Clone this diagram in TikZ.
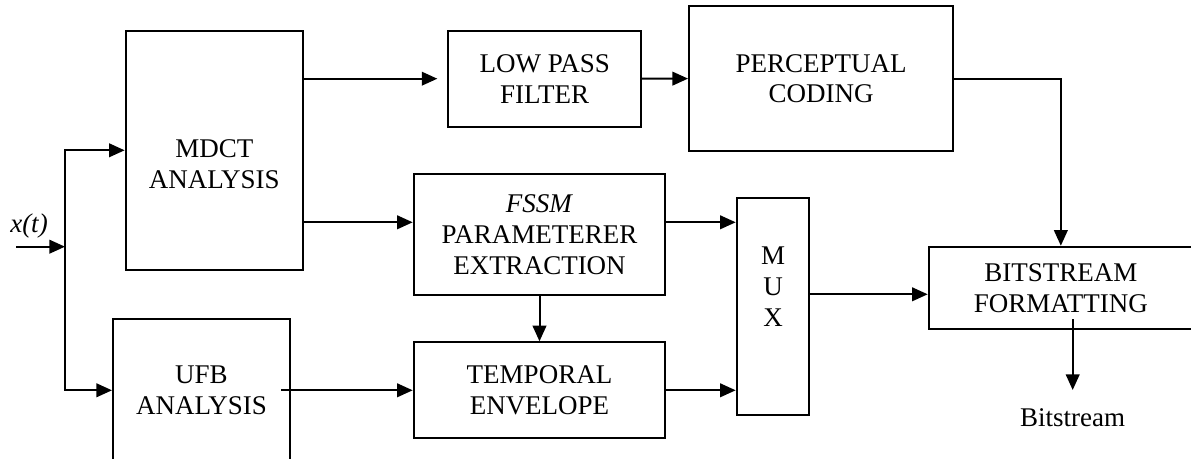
\documentclass[tikz,border=0pt]{standalone}
\usepackage{fontspec}
\setmainfont{Liberation Serif}
\usetikzlibrary{arrows.meta, positioning}
\tikzset{
  BLK/.style args={#1/#2}{
    rectangle, draw=black, line width=1pt,
    minimum width=#1, minimum height=#2,
    inner sep=0pt, align=center,
    font=\fontsize{13.5}{15.4}\selectfont
  },
  TXT/.style={
    inner sep=0pt,
    font=\fontsize{13.5}{15.4}\selectfont
  },
  ARR/.style={
    -{Triangle[length=7.8pt,width=6.8pt]},
    line width=1pt
  },
}

\begin{document}
\begin{tikzpicture}[x=0.5pt,y=0.5pt]

\useasboundingbox (0,0) rectangle (1191,-459);
\clip (0,0) rectangle (1191,-459);

%================ ANALYSIS =================
\node[BLK=88.65pt/119.65pt] (mdct) at (214.3,-150.3)
{\rule{0pt}{7.8pt}\\MDCT\\ANALYSIS};
\node[BLK=88.5pt/71.3pt] (ufb) at (201.5,-390.3) {UFB\\ANALYSIS};

%================ MIDDLE =================
\node[BLK=96.35pt/48pt]   (lpf)  at (544.7,-78.7)  {LOW PASS\\FILTER};
\node[BLK=125.8pt/60.35pt] (fssm) at (539.5,-234.7)
{\textit{FSSM}\\PARAMETERER\\EXTRACTION};
\node[BLK=125.8pt/48pt]   (te)   at (539.5,-390.3) {TEMPORAL\\ENVELOPE};

%================ RIGHT =================
\node[BLK=132.15pt/72.1pt]  (pc)  at (821.2,-78.6) {PERCEPTUAL\\CODING};
\node[BLK=36.3pt/108.35pt]  (mux) at (773,-306.7)  {M\\U\\X\\[4.6pt]\mbox{}};
\node[BLK=132.15pt/41.15pt] (bf)  at (1060.85,-287.9) {BITSTREAM\\FORMATTING};

%================ ROUTING POINTS =================
\coordinate (in)    at (16,-246.7);
\coordinate (split) at (65,-246.7);
\coordinate (row2)  at (0,-222.3);
\coordinate (row3)  at (0,-294.3);
\coordinate (bsend) at (1072.7,-390);

\node[TXT] (xt) at (29,-226) {\textit{x(t)}};
\node[TXT,below=9pt of bsend] (bits) {Bitstream};

%================ INPUT =================
\draw[ARR] (in) -- (split);
\draw[ARR] (split) |- (mdct.west);
\draw[ARR] (split) |- (ufb.west);

%================ PATHS =================
\draw[ARR,shorten >=5pt] (mdct.east |- lpf.west) -- (lpf.west);
\draw[ARR] (mdct.east |- row2) -- (fssm.west |- row2);
\draw[ARR] (lpf.east) -- (pc.west);
\draw[ARR] (pc.east) -| (bf.north);

\draw[ARR] (fssm.east |- row2) -- (mux.west |- row2);
\draw[ARR] (fssm.south) -- (te.north);
\draw[ARR] ([xshift=-5pt]ufb.east) -- (te.west);
\draw[ARR] (te.east) -- (te.east -| mux.west);

\draw[ARR] (mux.east |- row3) -- (bf.west |- row3);
\draw[ARR] (bf.south -| bsend) ++(0,10.7) -- (bsend);

\end{tikzpicture}
\end{document}
